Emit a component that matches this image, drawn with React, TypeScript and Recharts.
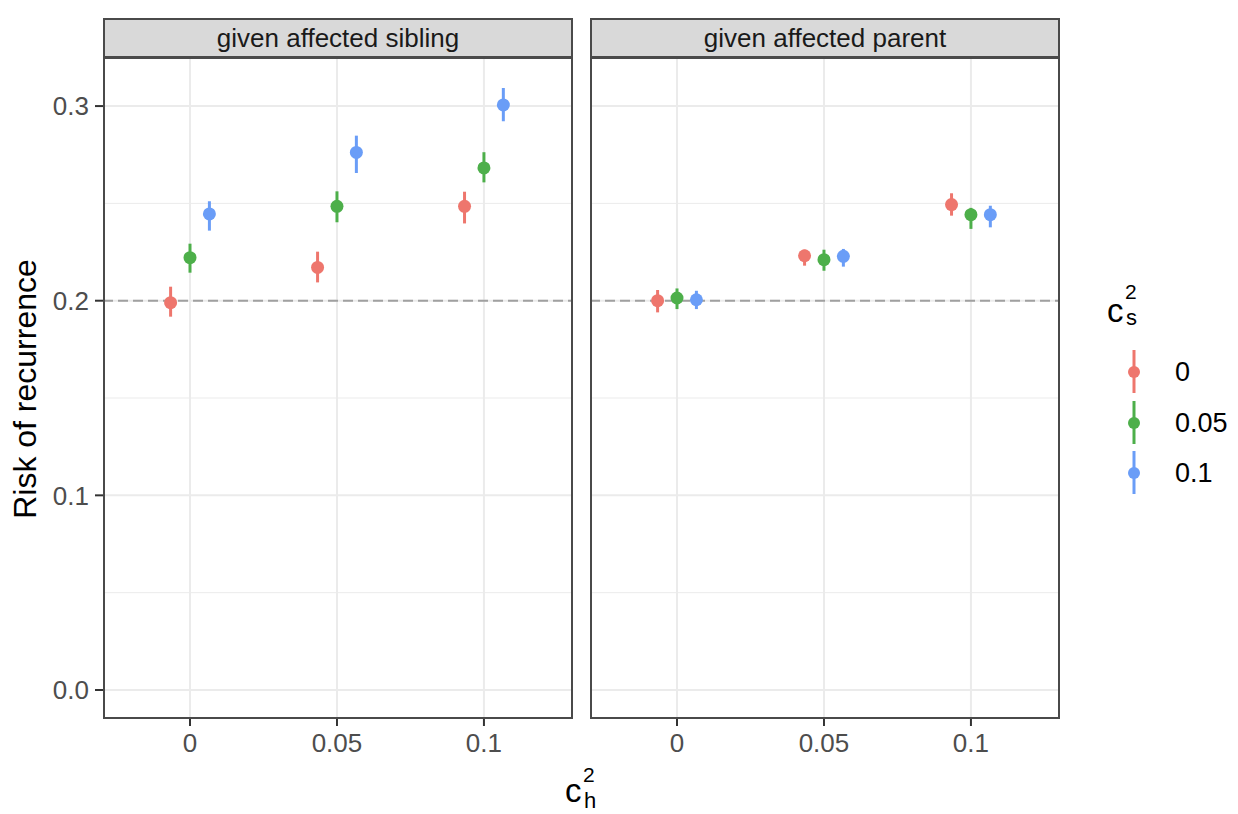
import React from "react";
import {
  ScatterChart,
  Scatter,
  XAxis,
  YAxis,
  CartesianGrid,
  ReferenceLine,
  ErrorBar,
} from "recharts";

// x categories (c_h^2) and series (c_s^2)
const X_CATS = [0, 0.05, 0.1];
const SERIES = ["0", "0.05", "0.1"];
const COLORS = ["#EE766D", "#4DAF4A", "#6A9DF7"];
const DODGE = [-0.0066, 0, 0.0066];

// [low, estimate, high] per x category
const SIB_C0 = [[0.1918, 0.199, 0.2072], [0.2094, 0.2171, 0.2252], [0.2397, 0.2485, 0.256]];
const SIB_C05 = [[0.2144, 0.2221, 0.2293], [0.2403, 0.2485, 0.2562], [0.2608, 0.2682, 0.2763]];
const SIB_C1 = [[0.236, 0.2446, 0.2511], [0.2656, 0.2762, 0.2848], [0.2922, 0.3006, 0.3093]];

const PAR_C0 = [[0.194, 0.2, 0.2055], [0.218, 0.2231, 0.2262], [0.2437, 0.2494, 0.2552]];
const PAR_C05 = [[0.1957, 0.2014, 0.2063], [0.2154, 0.2211, 0.2262], [0.2369, 0.2442, 0.2477]];
const PAR_C1 = [[0.1957, 0.2005, 0.2051], [0.2175, 0.2228, 0.2266], [0.2377, 0.2442, 0.2488]];

const Y_TICKS = [0, 0.1, 0.2, 0.3];
const Y_MINOR = [0.05, 0.15, 0.25];
const Y_DOMAIN = [-0.0144, 0.3247];
const X_DOMAIN = [-0.0296, 0.1303];
const REF_Y = 0.2;

const PANELS = [
  { title: "given affected sibling", series: [SIB_C0, SIB_C05, SIB_C1] },
  { title: "given affected parent", series: [PAR_C0, PAR_C05, PAR_C1] },
];

const FONT = '"Liberation Sans", Arial, Helvetica, sans-serif';
const BORDER = "#4a4a4a";

const toRows = (arr: number[][], i: number) =>
  X_CATS.map((x, j) => ({
    x: x + DODGE[i],
    y: arr[j][1],
    err: [arr[j][1] - arr[j][0], arr[j][2] - arr[j][1]],
  }));

const fmtX = (v: number) => (v === 0 ? "0" : String(v));

function Panel({ idx, showY }: { idx: number; showY: boolean }) {
  const panel = PANELS[idx];
  const yw = showY ? 103 : 0;
  return (
    <ScatterChart
      width={yw + 470}
      height={700}
      margin={{ top: 0, right: 0, bottom: 0, left: 0 }}
    >
      <CartesianGrid
        stroke="#EBEBEB"
        strokeWidth={1}
        horizontalValues={Y_MINOR}
        vertical={false}
      />
      <CartesianGrid
        stroke="#EBEBEB"
        strokeWidth={2}
        horizontalValues={Y_TICKS}
        verticalValues={X_CATS}
      />
      <XAxis
        type="number"
        dataKey="x"
        domain={X_DOMAIN}
        ticks={X_CATS}
        allowDataOverflow
        tickFormatter={fmtX}
        axisLine={false}
        tickSize={8}
        tickMargin={8}
        tickLine={{ stroke: "#333", strokeWidth: 2 }}
        tick={{ fill: "#4D4D4D", fontSize: 26, fontFamily: FONT }}
        height={40}
      />
      <YAxis
        type="number"
        dataKey="y"
        domain={Y_DOMAIN}
        ticks={Y_TICKS}
        allowDataOverflow
        hide={!showY}
        width={yw}
        axisLine={false}
        tickSize={8}
        tickMargin={6}
        tickFormatter={(v: number) => v.toFixed(1)}
        tickLine={{ stroke: "#333", strokeWidth: 2 }}
        tick={{ fill: "#4D4D4D", fontSize: 26, fontFamily: FONT }}
      />
      <ReferenceLine
        y={REF_Y}
        stroke="#A0A0A0"
        strokeWidth={2}
        strokeDasharray="10 5"
      />
      {panel.series.map((arr, i) => (
        <Scatter
          key={SERIES[i]}
          name={SERIES[i]}
          data={toRows(arr, i)}
          fill={COLORS[i]}
          isAnimationActive={false}
          shape={(p: any) => <circle cx={p.cx} cy={p.cy} r={6.5} fill={COLORS[i]} />}
        >
          <ErrorBar
            dataKey="err"
            direction="y"
            width={0}
            stroke={COLORS[i]}
            strokeWidth={3}
            isAnimationActive={false}
          />
        </Scatter>
      ))}
    </ScatterChart>
  );
}

const stripStyle = (left: number): React.CSSProperties => ({
  position: "absolute",
  left,
  top: 18,
  width: 470,
  height: 40,
  boxSizing: "border-box",
  background: "#D9D9D9",
  border: `2px solid ${BORDER}`,
  display: "flex",
  alignItems: "center",
  justifyContent: "center",
  fontSize: 26,
  color: "#1A1A1A",
});

const frameStyle = (left: number): React.CSSProperties => ({
  position: "absolute",
  left,
  top: 57,
  width: 470,
  height: 662,
  boxSizing: "border-box",
  border: `2px solid ${BORDER}`,
  pointerEvents: "none",
});

export default function App() {
  return (
    <div
      style={{
        position: "absolute",
        left: 0,
        top: 0,
        width: 1238,
        height: 814,
        background: "#fff",
        fontFamily: FONT,
        overflow: "hidden",
      }}
    >
      <div style={{ position: "absolute", left: 0, top: 58 }}>
        <Panel idx={0} showY />
      </div>
      <div style={{ position: "absolute", left: 590, top: 58 }}>
        <Panel idx={1} showY={false} />
      </div>

      <div style={stripStyle(103)}>{PANELS[0].title}</div>
      <div style={stripStyle(590)}>{PANELS[1].title}</div>
      <div style={frameStyle(103)} />
      <div style={frameStyle(590)} />

      {/* y axis title */}
      <div
        style={{
          position: "absolute",
          left: 25,
          top: 389,
          transform: "translate(-50%, -50%) rotate(-90deg)",
          whiteSpace: "nowrap",
          fontSize: 32,
          color: "#000",
        }}
      >
        Risk of recurrence
      </div>

      {/* x axis title: c_h^2 */}
      <div style={{ position: "absolute", left: 565, top: 770, width: 40, height: 44 }}>
        <span style={{ position: "absolute", left: 0, top: 4, fontSize: 33, lineHeight: "33px" }}>c</span>
        <span style={{ position: "absolute", left: 18, top: -6, fontSize: 21, lineHeight: "21px" }}>2</span>
        <span style={{ position: "absolute", left: 19, top: 20, fontSize: 22, lineHeight: "22px" }}>h</span>
      </div>

      {/* legend */}
      <div style={{ position: "absolute", left: 1107, top: 288, width: 40, height: 44 }}>
        <span style={{ position: "absolute", left: 0, top: 6, fontSize: 33, lineHeight: "33px" }}>c</span>
        <span style={{ position: "absolute", left: 18, top: -6, fontSize: 21, lineHeight: "20px" }}>2</span>
        <span style={{ position: "absolute", left: 19, top: 20, fontSize: 22, lineHeight: "20px" }}>s</span>
      </div>
      {SERIES.map((s, i) => {
        const cy = 372 + i * 50.5;
        return (
          <div key={s}>
            <svg
              style={{ position: "absolute", left: 1120, top: cy - 24 }}
              width={28}
              height={48}
            >
              <line x1={14} x2={14} y1={2} y2={45} stroke={COLORS[i]} strokeWidth={3} />
              <circle cx={14} cy={24} r={6} fill={COLORS[i]} />
            </svg>
            <div
              style={{
                position: "absolute",
                left: 1175,
                top: cy - 15,
                height: 30,
                lineHeight: "30px",
                fontSize: 27,
                color: "#000",
              }}
            >
              {s}
            </div>
          </div>
        );
      })}
    </div>
  );
}
